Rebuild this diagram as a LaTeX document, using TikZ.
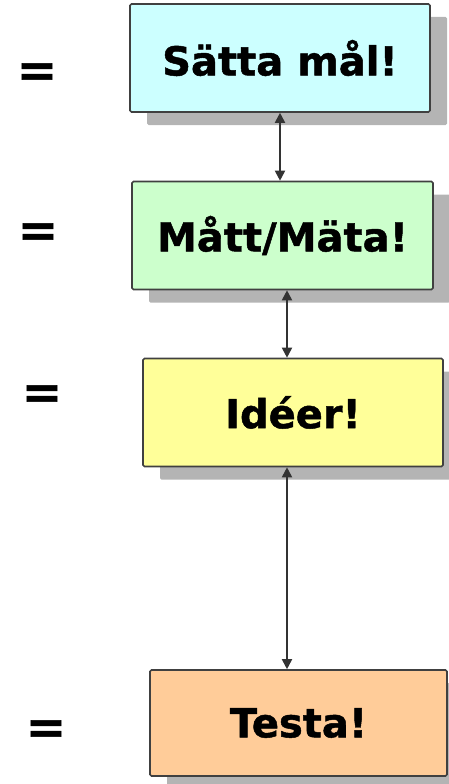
\documentclass[tikz,border=0pt]{standalone}
\usepackage{fontspec}
\setmainfont{DejaVu Sans}
\newfontfamily\heavyfont{DejaVu Sans Bold}[FakeBold=1.2]
\usetikzlibrary{shadows,arrows.meta}
\definecolor{boxline}{HTML}{404040}
\definecolor{shade}{HTML}{B4B4B4}
\definecolor{cyanfill}{HTML}{CCFFFF}
\definecolor{greenfill}{HTML}{CCFFCC}
\definecolor{yellowfill}{HTML}{FFFF99}
\definecolor{peachfill}{HTML}{FFCC99}
\begin{document}
\begin{tikzpicture}[x=1pt,y=-1pt,
  stepbox/.style={draw=boxline, line width=1.6pt, rounded corners=1.5pt,
    minimum width=300pt, minimum height=108pt, inner sep=0pt,
    font=\fontsize{40}{44}\heavyfont,
    drop shadow={shadow xshift=17pt, shadow yshift=-13pt, fill=shade, opacity=1}},
  eqsign/.style={font=\fontsize{48}{52}\heavyfont, inner sep=0pt},
  link/.style={draw=black!80, line width=1.8pt,
    {Triangle[length=10pt,width=10pt]}-{Triangle[length=10pt,width=10pt]}}]
\useasboundingbox (0,0) rectangle (449,784);

% process steps
\node[stepbox, fill=cyanfill]   (b1) at (280,58)    {Sätta mål!};
\node[stepbox, fill=greenfill, minimum width=301pt]  (b2) at (282.5,235.5) {Mått/Mäta!};
\node[stepbox, fill=yellowfill] (b3) at (293,412.5) {Idéer!};
\node[stepbox, fill=peachfill, minimum width=297pt, minimum height=106pt] (b4) at (298.5,723) {Testa!};

% equals signs on the left
\node[eqsign] (e1) at (37,75)  {=};
\node[eqsign] (e2) at (38,235) {=};
\node[eqsign] (e3) at (42,397) {=};
\node[eqsign] (e4) at (46,732) {=};

% connectors between the steps
\draw[link] (b1.south) -- (b1.south |- b2.north);
\draw[link] ([xshift=4.5pt]b2.south) -- ([xshift=4.5pt]b2.south |- b3.north);
\draw[link] ([xshift=-6pt]b3.south) -- ([xshift=-6pt]b3.south |- b4.north);
\end{tikzpicture}
\end{document}
